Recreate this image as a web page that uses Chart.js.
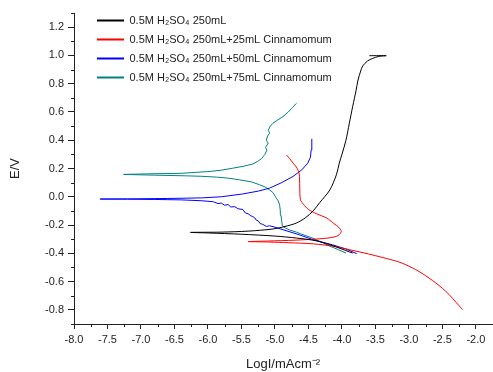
<!DOCTYPE html>
<html><head><meta charset="utf-8">
<script src="https://cdn.jsdelivr.net/npm/chart.js@4.4.1/dist/chart.umd.min.js"></script>
<style>html,body{margin:0;padding:0;background:#fff;}#wrap{width:493px;height:372px;}</style>
</head><body><div id="wrap"><canvas id="c" width="493" height="372"></canvas></div>
<script>
const seriesNames = [
  '0.5M H\u2082SO\u2084 250mL',
  '0.5M H\u2082SO\u2084 250mL+25mL Cinnamomum',
  '0.5M H\u2082SO\u2084 250mL+50mL Cinnamomum',
  '0.5M H\u2082SO\u2084 250mL+75mL Cinnamomum'
];
const seriesColors = ['#000000', '#ff0000', '#0000ff', '#008080'];
const seriesTension = [0.3, 0.3, 0, 0];

const blackX = [-3.84,-3.89,-4.00,-4.18,-4.40,-4.68,-5.00,-5.50,-6.00,-6.26,-5.80,-5.40,-5.03,-4.85,-4.68,-4.55,-4.43,-4.33,-4.18,-4.08,-4.04,-4.00,-3.94,-3.89,-3.84,-3.79,-3.76,-3.72,-3.69,-3.62,-3.54,-3.45,-3.34,-3.59];
const blackY = [-0.398,-0.390,-0.370,-0.339,-0.310,-0.292,-0.278,-0.265,-0.256,-0.252,-0.250,-0.243,-0.228,-0.210,-0.186,-0.150,-0.100,-0.040,0.049,0.160,0.238,0.300,0.400,0.520,0.638,0.750,0.826,0.890,0.925,0.960,0.979,0.993,0.998,0.998];

const redX = [-2.20,-2.30,-2.40,-2.50,-2.60,-2.70,-2.80,-2.90,-3.00,-3.15,-3.39,-3.60,-3.89,-4.10,-4.43,-4.80,-5.10,-5.40,-5.10,-4.70,-4.38,-4.18,-4.06,-4.01,-4.05,-4.12,-4.23,-4.38,-4.50,-4.58,-4.62,-4.63,-4.64,-4.68,-4.73,-4.78,-4.83];
const redY = [-0.798,-0.745,-0.692,-0.648,-0.609,-0.575,-0.543,-0.515,-0.491,-0.461,-0.430,-0.405,-0.374,-0.352,-0.333,-0.325,-0.320,-0.317,-0.313,-0.307,-0.299,-0.290,-0.275,-0.245,-0.215,-0.190,-0.150,-0.120,-0.090,-0.050,-0.020,0.070,0.167,0.210,0.238,0.270,0.296];

const blueX = [-3.78,-3.94,-4.14,-4.43,-4.63,-4.88,-5.00,-5.08,-5.13,-5.18,-5.22,-5.25,-5.28,-5.30,-5.33,-5.36,-5.40,-5.44,-5.48,-5.55,-5.60,-5.66,-5.70,-5.75,-5.80,-5.85,-5.92,-6.00,-6.10,-6.40,-6.80,-7.20,-7.61,-7.20,-6.60,-6.10,-5.80,-5.48,-5.25,-5.08,-4.90,-4.73,-4.60,-4.51,-4.47,-4.46,-4.45,-4.45];
const blueY = [-0.402,-0.370,-0.340,-0.304,-0.270,-0.233,-0.215,-0.205,-0.210,-0.195,-0.190,-0.170,-0.165,-0.150,-0.140,-0.135,-0.120,-0.115,-0.090,-0.085,-0.070,-0.072,-0.055,-0.060,-0.045,-0.048,-0.035,-0.032,-0.028,-0.022,-0.019,-0.017,-0.016,-0.015,-0.012,-0.008,0.000,0.020,0.040,0.061,0.100,0.144,0.190,0.238,0.280,0.330,0.370,0.410];

const tealX = [-3.94,-4.05,-4.15,-4.28,-4.45,-4.60,-4.68,-4.78,-4.85,-4.89,-4.90,-4.91,-4.92,-4.93,-4.95,-4.98,-5.03,-5.08,-5.15,-5.23,-5.35,-5.53,-5.70,-5.87,-6.10,-6.32,-6.80,-7.26,-6.90,-6.40,-5.97,-5.80,-5.63,-5.45,-5.33,-5.26,-5.20,-5.15,-5.12,-5.14,-5.10,-5.13,-5.11,-5.08,-5.10,-5.07,-5.03,-4.97,-4.88,-4.80,-4.74,-4.68];
const tealY = [-0.398,-0.375,-0.355,-0.327,-0.290,-0.265,-0.250,-0.235,-0.220,-0.205,-0.170,-0.130,-0.100,-0.060,-0.030,-0.010,0.030,0.049,0.070,0.085,0.105,0.120,0.132,0.139,0.145,0.148,0.153,0.158,0.162,0.166,0.179,0.188,0.202,0.218,0.232,0.250,0.270,0.300,0.330,0.350,0.380,0.400,0.430,0.450,0.470,0.500,0.520,0.540,0.567,0.600,0.630,0.661];

const xTicks = [-8.0,-7.5,-7.0,-6.5,-6.0,-5.5,-5.0,-4.5,-4.0,-3.5,-3.0,-2.5,-2.0];
const yTicks = [-0.8,-0.6,-0.4,-0.2,0.0,0.2,0.4,0.6,0.8,1.0,1.2];
const xMinorTicks = [-7.75,-7.25,-6.75,-6.25,-5.75,-5.25,-4.75,-4.25,-3.75,-3.25,-2.75,-2.25,-1.75];
const yMinorTicks = [-0.9,-0.7,-0.5,-0.3,-0.1,0.1,0.3,0.5,0.7,0.9,1.1,1.3];

Chart.defaults.font.family = "'Liberation Sans', Arial, Helvetica, sans-serif";
Chart.defaults.color = '#222';

const seriesData = [[blackX, blackY], [redX, redY], [blueX, blueY], [tealX, tealY]];
const datasets = seriesData.map((s, i) => ({
  label: seriesNames[i],
  data: s[0].map((x, j) => ({x: x, y: s[1][j]})),
  borderColor: seriesColors[i],
  backgroundColor: seriesColors[i],
  borderWidth: 1,
  pointRadius: 0,
  pointHoverRadius: 0,
  tension: seriesTension[i],
  fill: false
}));

const minorTicks = {
  id: 'minorTicks',
  afterDraw(chart) {
    const ctx = chart.ctx, xs = chart.scales.x, ys = chart.scales.y, ca = chart.chartArea;
    ctx.save();
    ctx.strokeStyle = '#222';
    ctx.lineWidth = 1;
    ctx.beginPath();
    yMinorTicks.forEach(v => { const p = Math.round(ys.getPixelForValue(v)) + 0.5; ctx.moveTo(ca.left, p); ctx.lineTo(ca.left - 3, p); });
    xMinorTicks.forEach(v => { const p = Math.round(xs.getPixelForValue(v)) + 0.5; ctx.moveTo(p, ca.bottom); ctx.lineTo(p, ca.bottom + 3); });
    ctx.stroke();
    ctx.restore();
  }
};
const legendPlace = {
  id: 'legendPlace',
  afterLayout(chart) {
    const lg = chart.legend;
    if (lg) { lg.left = chart.chartArea.left + 15; lg.top = 7; }
  }
};

new Chart(document.getElementById('c'), {
  type: 'line',
  data: { datasets: datasets },
  plugins: [minorTicks, legendPlace],
  options: {
    responsive: false,
    devicePixelRatio: 1,
    animation: false,
    layout: { padding: { top: 13, right: 1, left: 0, bottom: 0 } },
    plugins: {
      tooltip: { enabled: false },
      legend: {
        position: 'chartArea',
        align: 'start',
        labels: {
          boxWidth: 27, boxHeight: 2, padding: 8, color: '#222', font: { size: 11 },
          generateLabels: chart => chart.data.datasets.map((d, i) => ({
            text: d.label, fillStyle: seriesColors[i], strokeStyle: seriesColors[i],
            lineWidth: 0, hidden: false, datasetIndex: i, fontColor: '#222'
          }))
        }
      }
    },
    scales: {
      x: {
        type: 'linear', min: -8, max: -1.76,
        afterBuildTicks: s => { s.ticks = xTicks.map(v => ({value: v})); },
        afterFit: s => { s.height = 48; },
        ticks: { callback: v => Number(v).toFixed(1), font: { size: 11 }, padding: 4, maxRotation: 0, autoSkip: false, color: '#222' },
        grid: { drawOnChartArea: false, tickLength: 5, color: '#222' },
        border: { color: '#222', width: 1 },
        title: { display: true, text: 'LogI/mAcm\u207B\u00B2', font: { size: 13 }, color: '#222', padding: { top: 0, bottom: 0 } }
      },
      y: {
        type: 'linear', min: -0.9, max: 1.3,
        afterBuildTicks: s => { s.ticks = yTicks.map(v => ({value: v})); },
        afterFit: s => { s.width = 74; },
        ticks: { callback: v => Number(v).toFixed(1), font: { size: 11 }, padding: 4, autoSkip: false, color: '#222' },
        grid: { drawOnChartArea: false, tickLength: 6, color: '#222' },
        border: { color: '#222', width: 1 },
        title: { display: true, text: 'E/V', font: { size: 13 }, color: '#222', padding: { top: 8, bottom: 0 } }
      }
    }
  }
});
</script>
</body></html>
